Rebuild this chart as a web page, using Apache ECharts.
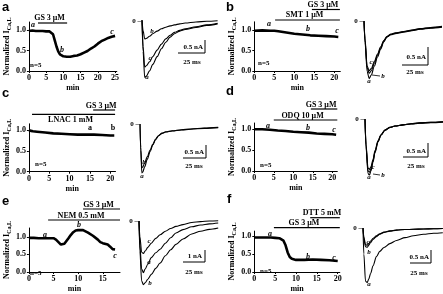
<!DOCTYPE html>
<html>
<head>
<meta charset="utf-8">
<script src="https://cdn.jsdelivr.net/npm/echarts@6/dist/echarts.min.js"></script>
<style>
html, body { margin: 0; padding: 0; background: #fff; }
#chart { width: 443px; height: 294px; }
</style>
</head>
<body>
<div id="chart"></div>
<script>
// ---- time courses: [min, normalized current] ----
var courseA = [[0,0.98],[1,0.99],[2,0.98],[3,0.98],[4,0.98],[5,0.97],[6,0.97],[6.5,0.95],[7,0.9],[7.5,0.75],[8,0.6],[8.5,0.48],[9,0.41],[9.5,0.37],[10,0.36],[11,0.35],[12,0.35],[13,0.37],[14,0.38],[15,0.41],[16,0.45],[17,0.49],[18,0.55],[19,0.6],[20,0.67],[21,0.73],[22,0.77],[23,0.81],[24,0.84],[25,0.86]];
var courseB = [[0,0.98],[2,0.99],[4,0.98],[5,0.98],[6,0.97],[8,0.94],[10,0.91],[12,0.89],[14,0.87],[16,0.86],[18,0.85],[20,0.84],[21,0.83]];
var courseC = [[0,1.0],[0.5,0.98],[1,0.97],[2,0.96],[4,0.94],[6,0.92],[8,0.91],[10,0.9],[12,0.89],[14,0.89],[16,0.89],[18,0.88],[20,0.87],[21,0.87]];
var courseD = [[0,1.0],[2,1.0],[4,0.99],[6,0.97],[8,0.96],[10,0.94],[12,0.93],[14,0.92],[16,0.9],[18,0.89],[20,0.88],[21,0.87]];
var courseE = [[0,0.97],[1,0.97],[2,0.96],[3,0.96],[4,0.96],[5,0.96],[5.5,0.92],[6,0.85],[6.5,0.78],[6.8,0.75],[7.2,0.8],[8,0.95],[8.5,1.05],[9,1.13],[9.5,1.18],[10,1.19],[11,1.19],[12,1.12],[13,1.03],[14,0.92],[14.5,0.85],[15,0.82],[16,0.78],[16.5,0.72],[17,0.65],[17.5,0.64]];
var courseF = [[0,0.97],[2,0.97],[4,0.97],[5,0.96],[6,0.95],[7,0.88],[7.5,0.75],[8,0.55],[8.5,0.42],[9,0.37],[10,0.34],[12,0.34],[14,0.35],[16,0.34],[18,0.33],[20,0.31]];

// ---- drug applications: [label, start min, end min] ----
var drugsA = [['GS 3 \u03bcM', 3.6, 11.7]];
var drugsB = [['GS 3 \u03bcM', 14.4, 21.4], ['SMT 1 \u03bcM', 5.2, 21.4]];
var drugsC = [['GS 3 \u03bcM', 16, 21.2], ['LNAC 1 mM', 1.5, 21.2]];
var drugsD = [['GS 3 \u03bcM', 14.5, 21.3], ['ODQ 10 \u03bcM', 5, 21.3]];
var drugsE = [['GS 3 \u03bcM', 11.3, 18.5], ['NEM 0.5 mM', 4.5, 18.5]];
var drugsF = [['DTT 5 mM', 13.4, 20.5], ['GS 3 \u03bcM', 4.7, 20.5]];

// ---- current traces: [ms, nA] ----
var traceAa = [[0,0],[1,-1.2],[2.5,-2.2],[4,-2.15],[7,-1.95],[10,-1.7],[14,-1.4],[18,-1.1],[22,-0.85],[26,-0.65],[30,-0.52],[35,-0.42],[40,-0.36],[50,-0.28],[60,-0.2],[70,-0.14]];
var traceAb = [[0,0],[1,-0.4],[2.5,-0.72],[4,-0.7],[7,-0.62],[10,-0.52],[14,-0.42],[18,-0.33],[22,-0.27],[26,-0.22],[30,-0.18],[35,-0.14],[40,-0.11],[50,-0.07],[60,-0.04],[70,-0.02]];
var traceAc = [[0,0],[1,-1.0],[2.5,-1.8],[4,-1.75],[7,-1.6],[10,-1.4],[14,-1.15],[18,-0.92],[22,-0.72],[26,-0.58],[30,-0.47],[35,-0.39],[40,-0.33],[50,-0.25],[60,-0.18],[70,-0.12]];
var traceBa = [[0,0],[1,-0.6],[3,-1.4],[5,-1.6],[7,-1.5],[10,-1.25],[13,-1.0],[16,-0.78],[19,-0.58],[22,-0.45],[26,-0.38],[30,-0.35],[38,-0.31],[46,-0.27],[54,-0.23],[64,-0.2],[75,-0.17]];
var traceBb = [[0,0],[1,-0.55],[3,-1.3],[5,-1.45],[7,-1.38],[10,-1.17],[13,-0.95],[16,-0.75],[19,-0.56],[22,-0.44],[26,-0.37],[30,-0.34],[38,-0.3],[46,-0.26],[54,-0.22],[64,-0.19],[75,-0.16]];
var traceBc = [[0,0],[1,-0.5],[3,-1.25],[5,-1.38],[7,-1.32],[10,-1.12],[13,-0.92],[16,-0.72],[19,-0.54],[22,-0.43],[26,-0.36],[30,-0.33],[38,-0.29],[46,-0.25],[54,-0.21],[64,-0.18],[75,-0.15]];
var traceCa = [[0,0],[0.8,-1.0],[2,-1.88],[3,-1.85],[5,-1.65],[8,-1.35],[11,-1.06],[14,-0.8],[17,-0.6],[20,-0.46],[24,-0.36],[28,-0.31],[35,-0.27],[45,-0.23],[55,-0.2],[70,-0.17],[85,-0.14]];
var traceCb = [[0,0],[0.8,-0.9],[2,-1.68],[3,-1.66],[5,-1.5],[8,-1.25],[11,-1.0],[14,-0.77],[17,-0.58],[20,-0.45],[24,-0.35],[28,-0.3],[35,-0.26],[45,-0.22],[55,-0.19],[70,-0.16],[85,-0.13]];
var traceDa = [[0,0],[1,-1.0],[3,-1.95],[4.5,-2.0],[6,-1.85],[8,-1.55],[10,-1.2],[13,-0.82],[16,-0.58],[20,-0.4],[25,-0.3],[30,-0.25],[38,-0.21],[46,-0.17],[55,-0.14],[66,-0.12],[78,-0.1]];
var traceDb = [[0,0],[1,-0.95],[3,-1.85],[4.5,-1.9],[6,-1.78],[8,-1.5],[10,-1.17],[13,-0.8],[16,-0.57],[20,-0.4],[25,-0.3],[30,-0.25],[38,-0.21],[46,-0.17],[55,-0.14],[66,-0.12],[78,-0.1]];
var traceDc = [[0,0],[1,-0.9],[3,-1.75],[4.5,-1.8],[6,-1.7],[8,-1.45],[10,-1.13],[13,-0.78],[16,-0.56],[20,-0.39],[25,-0.3],[30,-0.25],[38,-0.21],[46,-0.18],[55,-0.15],[66,-0.13],[78,-0.11]];
var traceEa = [[0,0],[1,-2.0],[3,-4.0],[5,-4.3],[7,-4.0],[10,-3.6],[14,-3.05],[19,-2.65],[24,-2.35],[30,-1.85],[36,-1.4],[42,-1.0],[50,-0.72],[60,-0.48],[70,-0.33],[80,-0.24],[90,-0.17]];
var traceEb = [[0,0],[1,-2.5],[3,-5.0],[5,-5.3],[7,-5.15],[10,-4.85],[14,-4.45],[19,-3.95],[24,-3.5],[30,-2.9],[36,-2.4],[42,-1.95],[50,-1.5],[60,-1.08],[70,-0.85],[80,-0.7],[90,-0.58]];
var traceEc = [[0,0],[1,-1.3],[3,-2.6],[5,-2.7],[7,-2.5],[10,-2.2],[14,-1.85],[19,-1.45],[24,-1.15],[30,-0.85],[36,-0.62],[42,-0.45],[50,-0.3],[60,-0.12],[70,-0.05],[80,0],[90,0.02]];
var traceFa = [[0,0],[1,-1.0],[3,-2.05],[5,-2.1],[7,-1.95],[9,-1.75],[12,-1.45],[16,-1.1],[20,-0.9],[25,-0.75],[32,-0.6],[40,-0.48],[50,-0.37],[60,-0.3],[72,-0.24],[84,-0.2],[95,-0.18]];
var traceFb = [[0,0],[1,-0.4],[3,-0.72],[5,-0.74],[7,-0.66],[9,-0.56],[12,-0.44],[16,-0.33],[20,-0.24],[25,-0.17],[32,-0.12],[40,-0.08],[50,-0.06],[60,-0.05],[72,-0.04],[84,-0.03],[95,-0.02]];
var traceFc = [[0,0],[1,-0.35],[3,-0.64],[5,-0.66],[7,-0.6],[9,-0.5],[12,-0.4],[16,-0.3],[20,-0.22],[25,-0.16],[32,-0.11],[40,-0.08],[50,-0.06],[60,-0.05],[72,-0.04],[84,-0.03],[95,-0.02]];

var xTicks = [0, 5, 10, 15, 20, 25];
var yTicks = [0, 0.5, 1.0];
var yNames = ['Ca,L', 'Ca,L', 'Ca,L', 'Ca,L', 'Ca,L', 'Ca,L'];
var scaleNA = [0.5, 0.5, 0.5, 0.5, 1, 0.5];
var scaleMS = 25;

var SERIF = '"Liberation Serif", "DejaVu Serif", serif';
var SANS = '"Liberation Sans", Arial, sans-serif';

// layout of the time-course panels (pixels) and their axis ranges
var courses = [
    {data: courseA, drugs: drugsA, left: 25, top: 22, width: 91.8, height: 49, xMax: 25.5, yMax: 1.2,
     barY: [23], textY: [17.5], letter: ['a', 2, 7], n: [30, 65],
     marks: [['a', 33, 25], ['b', 62, 50], ['c', 112, 32]]},
    {data: courseB, drugs: drugsB, left: 254.3, top: 21.8, width: 86, height: 49.2, xMax: 21.5, yMax: 1.2,
     barY: [9.5, 20], textY: [4.5, 14.5], letter: ['b', 226, 7], n: [258, 63],
     marks: [['a', 269, 24], ['b', 308, 29], ['c', 337, 31]]},
    {data: courseC, drugs: drugsC, left: 25.7, top: 123.8, width: 89.8, height: 47.9, xMax: 21.3, yMax: 1.15,
     barY: [110, 114.3], textY: [106, 119.5], letter: ['c', 2, 93], n: [35, 164], upright: true,
     marks: [['a', 90, 128], ['b', 113, 128]]},
    {data: courseD, drugs: drugsD, left: 254.3, top: 123, width: 83, height: 48, xMax: 21.3, yMax: 1.15,
     barY: [109, 120], textY: [104.5, 115.5], letter: ['d', 226, 91], n: [260, 165],
     marks: [['a', 268, 126], ['b', 308, 128], ['c', 334, 130]]},
    {data: courseE, drugs: drugsE, left: 25, top: 228, width: 95, height: 52, xMax: 18.5, yMax: 1.25,
     barY: [209, 220], textY: [205, 215.5], letter: ['e', 2, 201], n: [30, 273],
     marks: [['a', 45, 235], ['b', 79, 225], ['c', 115, 256]]},
    {data: courseF, drugs: drugsF, left: 254.3, top: 231.1, width: 85.5, height: 47.2, xMax: 20.5, yMax: 1.15,
     barY: [217.7, 227.7], textY: [213, 223], letter: ['f', 227, 199], n: [260, 271],
     marks: [['a', 270, 234], ['b', 308, 257], ['c', 334, 258]]}
];

// layout of the trace panels (pixels) and their axis ranges
var traces = [
    {lines: [traceAa, traceAc, traceAb], left: 142, top: 17.6, width: 75.6, height: 62.4, xMax: 70, yMin: -2.3, yMax: 0.1,
     zero: [141, 21], bar: [205, 53], barText: [203, 47, 192, 62],
     labels: [['b', 152, 31], ['c', 150, 58], ['a', 147, 77]]},
    {lines: [traceBa, traceBb, traceBc], left: 364, top: 17.4, width: 78, height: 64.8, xMax: 75, yMin: -1.7, yMax: 0.1,
     zero: [363, 21], bar: [428, 65], barText: [426, 57, 415, 72],
     labels: [['c', 371, 62], ['b', 383, 76], ['a', 369, 81]], lead: [372, 75, 380, 76]},
    {lines: [traceCa, traceCb], left: 140, top: 121.4, width: 78.2, height: 54.6, xMax: 85, yMin: -2.0, yMax: 0.1,
     zero: [139, 124], bar: [206, 158], barText: [204, 152, 194, 166],
     labels: [['b', 144, 162], ['a', 142, 176]]},
    {lines: [traceDa, traceDb, traceDc], left: 365, top: 116.2, width: 78, height: 61.6, xMax: 78, yMin: -2.1, yMax: 0.1,
     zero: [364, 119], bar: [428, 157], barText: [426, 151, 416, 166],
     labels: [['c', 373, 167], ['b', 383, 175], ['a', 369, 177]], lead: [373, 174, 380, 175]},
    {lines: [traceEa, traceEb, traceEc], left: 139, top: 217.4, width: 79.2, height: 70.8, xMax: 90, yMin: -5.6, yMax: 0.3,
     zero: [138, 221], bar: [205, 262], barText: [202, 256, 194, 272],
     labels: [['c', 149, 241], ['a', 149, 262], ['b', 150, 283]]},
    {lines: [traceFa, traceFb, traceFc], left: 363, top: 224.1, width: 79.8, height: 63.7, xMax: 95, yMin: -2.3, yMax: 0.15,
     zero: [362, 228], bar: [431, 263], barText: [429, 257, 419, 273],
     labels: [['c', 368, 242], ['b', 369, 252], ['a', 369, 284]]}
];

function txt(x, y, s, font, align) {
    return {type: 'text', x: x, y: y, silent: true,
        style: {text: s, font: font, fill: '#000', align: align || 'center', verticalAlign: 'middle'}};
}
function seg(x1, y1, x2, y2, w) {
    return {type: 'line', silent: true, shape: {x1: x1, y1: y1, x2: x2, y2: y2},
        style: {stroke: '#000', lineWidth: w || 1}};
}

var grids = [], xAxes = [], yAxes = [], series = [], graphics = [];

courses.forEach(function(p, i) {
    var ticks = xTicks.filter(function(v) { return v <= p.xMax; });
    grids.push({left: p.left, top: p.top, width: p.width, height: p.height});
    xAxes.push({
        gridIndex: i, type: 'value', min: 0, max: p.xMax,
        name: 'min', nameLocation: 'middle', nameGap: 13,
        nameTextStyle: {fontFamily: SERIF, fontWeight: 'bold', fontSize: 8, color: '#000'},
        axisLine: {lineStyle: {color: '#000', width: 1}},
        axisTick: {length: 2, lineStyle: {color: '#000'}, customValues: ticks},
        axisLabel: {fontFamily: SERIF, fontWeight: 'bold', fontSize: 8, color: '#000', margin: 3, customValues: ticks},
        splitLine: {show: false}
    });
    yAxes.push({
        gridIndex: i, type: 'value', min: 0, max: p.yMax,
        name: 'Normalized I{s|' + yNames[i] + '}', nameLocation: 'middle', nameGap: 15, nameRotate: 90,
        nameTextStyle: {fontFamily: SERIF, fontWeight: 'bold', fontSize: 8, color: '#000', lineHeight: 11,
            rich: {s: {fontFamily: SERIF, fontWeight: 'bold', fontSize: 6, color: '#000', verticalAlign: 'bottom', lineHeight: 11}}},
        axisLine: {lineStyle: {color: '#000', width: 1}},
        axisTick: {length: 2, lineStyle: {color: '#000'}, customValues: yTicks},
        axisLabel: {fontFamily: SERIF, fontWeight: 'bold', fontSize: 8, color: '#000', margin: 3,
            customValues: yTicks, formatter: function(v) { return v.toFixed(1); }},
        splitLine: {show: false}
    });
    series.push({type: 'line', xAxisIndex: i, yAxisIndex: i, data: p.data, showSymbol: false,
        lineStyle: {color: '#000', width: 2.6}, silent: true});

    var pxPerMin = p.width / p.xMax;
    p.drugs.forEach(function(d, k) {
        var x1 = p.left + d[1] * pxPerMin, x2 = p.left + d[2] * pxPerMin;
        graphics.push(seg(x1, p.barY[k], x2, p.barY[k], 1.2));
        graphics.push(txt((x1 + x2) / 2 - 3, p.textY[k], d[0], 'bold 8px ' + SERIF));
    });
    graphics.push(txt(p.letter[1], p.letter[2], p.letter[0], 'bold 13px ' + SANS, 'left'));
    graphics.push(txt(p.n[0], p.n[1], 'n=5', 'bold 7px ' + SERIF, 'left'));
    p.marks.forEach(function(m) {
        graphics.push(txt(m[1], m[2], m[0], (p.upright ? 'bold ' : 'italic bold ') + '8px ' + SERIF));
    });
});

traces.forEach(function(p, j) {
    var i = courses.length + j;
    grids.push({left: p.left, top: p.top, width: p.width, height: p.height});
    xAxes.push({gridIndex: i, type: 'value', min: 0, max: p.xMax, show: false});
    yAxes.push({gridIndex: i, type: 'value', min: p.yMin, max: p.yMax, show: false});
    p.lines.forEach(function(d) {
        series.push({type: 'line', xAxisIndex: i, yAxisIndex: i, data: d, showSymbol: false,
            smooth: 0.3, smoothMonotone: 'x', lineStyle: {color: '#000', width: 1.1}, silent: true});
    });
    // scale bars sized from the panel's own scale
    var hLen = scaleMS * p.width / p.xMax;
    var vLen = scaleNA[j] * p.height / (p.yMax - p.yMin);
    var bx = p.bar[0], by = p.bar[1];
    graphics.push(seg(bx - hLen, by, bx, by, 1));
    graphics.push(seg(bx, by, bx, by - vLen, 1));
    graphics.push(txt(p.barText[0], p.barText[1], scaleNA[j] + ' nA', 'bold 7px ' + SERIF, 'right'));
    graphics.push(txt(p.barText[2], p.barText[3], scaleMS + ' ms', 'bold 7px ' + SERIF));
    graphics.push(txt(p.zero[0], p.zero[1], '0 \u2013', 'bold 7px ' + SERIF, 'right'));
    p.labels.forEach(function(m) {
        graphics.push(txt(m[1], m[2], m[0], 'italic bold 7px ' + SERIF));
    });
    if (p.lead) graphics.push(seg(p.lead[0], p.lead[1], p.lead[2], p.lead[3], 0.8));
});

var chart = echarts.init(document.getElementById('chart'));
chart.setOption({
    animation: false,
    backgroundColor: '#fff',
    grid: grids,
    xAxis: xAxes,
    yAxis: yAxes,
    series: series,
    graphic: graphics
});
</script>
</body>
</html>
